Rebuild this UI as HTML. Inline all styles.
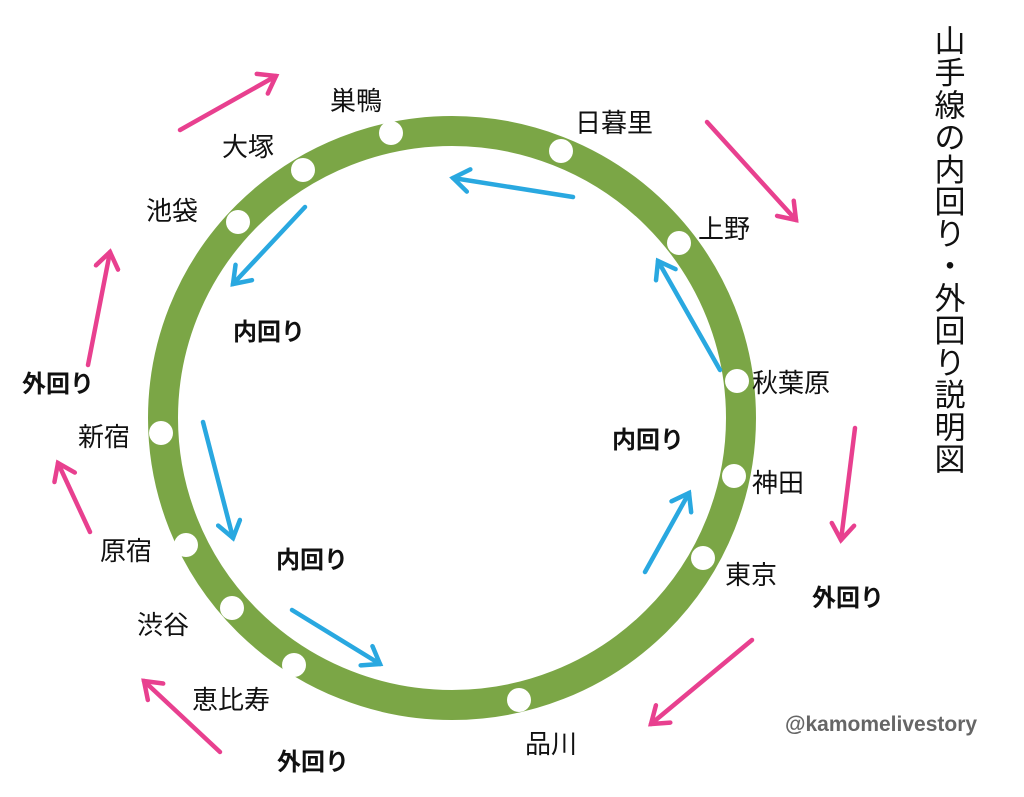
<!DOCTYPE html>
<html><head><meta charset="utf-8"><style>
html,body{margin:0;padding:0;background:#fff;}
svg{display:block}
text{font-family:"Liberation Sans","Noto Sans CJK JP",sans-serif;}
</style></head><body>
<svg width="1024" height="797" viewBox="0 0 1024 797" xmlns="http://www.w3.org/2000/svg">
<rect width="1024" height="797" fill="#fff"/>
<ellipse cx="452" cy="418" rx="289" ry="287" fill="none" stroke="#7ba646" stroke-width="30"/>
<g fill="#fff">
<circle cx="391" cy="133" r="12"/><circle cx="561" cy="151" r="12"/><circle cx="679" cy="243" r="12"/>
<circle cx="737" cy="381" r="12"/><circle cx="734" cy="476" r="12"/><circle cx="703" cy="558" r="12"/>
<circle cx="519" cy="700" r="12"/><circle cx="294" cy="665" r="12"/><circle cx="232" cy="608" r="12"/>
<circle cx="186" cy="545" r="12"/><circle cx="161" cy="433" r="12"/><circle cx="238" cy="222" r="12"/>
<circle cx="303" cy="170" r="12"/>
</g>
<defs>
<marker id="p" markerWidth="6" markerHeight="6" refX="4.5" refY="3" orient="auto" markerUnits="strokeWidth"><path d="M1,0.5 L4.5,3 L1,5.5" fill="none" stroke="#e8408f" stroke-width="1" stroke-linecap="round"/></marker>
<marker id="b" markerWidth="6" markerHeight="6" refX="4.5" refY="3" orient="auto" markerUnits="strokeWidth"><path d="M1,0.5 L4.5,3 L1,5.5" fill="none" stroke="#29a8e0" stroke-width="1" stroke-linecap="round"/></marker>
</defs>
<g stroke="#e8408f" stroke-width="4.5" stroke-linecap="round" marker-end="url(#p)">
<line x1="180" y1="130" x2="276" y2="76"/>
<line x1="707" y1="122" x2="796" y2="220"/>
<line x1="88" y1="365" x2="110" y2="252"/>
<line x1="855" y1="428" x2="841" y2="540"/>
<line x1="90" y1="532" x2="58" y2="463"/>
<line x1="752" y1="640" x2="651" y2="724"/>
<line x1="220" y1="752" x2="144" y2="681"/>
</g>
<g stroke="#29a8e0" stroke-width="4.5" stroke-linecap="round" marker-end="url(#b)">
<line x1="573" y1="197" x2="453" y2="178"/>
<line x1="305" y1="207" x2="233" y2="284"/>
<line x1="720" y1="370" x2="658" y2="261"/>
<line x1="203" y1="422" x2="233" y2="538"/>
<line x1="645" y1="572" x2="689" y2="493"/>
<line x1="292" y1="610" x2="380" y2="664"/>
</g>
<g font-size="26" fill="#111">
<text x="330" y="110">巣鴨</text>
<text x="575" y="132">日暮里</text>
<text x="222" y="156">大塚</text>
<text x="146" y="220">池袋</text>
<text x="698" y="238">上野</text>
<text x="752" y="392">秋葉原</text>
<text x="78" y="446">新宿</text>
<text x="752" y="492">神田</text>
<text x="100" y="560">原宿</text>
<text x="725" y="584">東京</text>
<text x="137" y="634">渋谷</text>
<text x="192" y="709">恵比寿</text>
<text x="525" y="753">品川</text>
</g>
<g font-size="24" font-weight="bold" fill="#111">
<text x="22" y="392">外回り</text>
<text x="233" y="340">内回り</text>
<text x="612" y="448">内回り</text>
<text x="276" y="568">内回り</text>
<text x="812" y="606">外回り</text>
<text x="277" y="770">外回り</text>
</g>
<text x="785" y="731" font-size="21" font-weight="bold" fill="#666">@kamomelivestory</text>
<g font-size="31" fill="#111" text-anchor="middle">
<text x="950" y="52">山</text>
<text x="950" y="84.2">手</text>
<text x="950" y="116.4">線</text>
<text x="950" y="148.6">の</text>
<text x="950" y="180.8">内</text>
<text x="950" y="213">回</text>
<text x="950" y="245.2">り</text>
<text x="950" y="277.4">・</text>
<text x="950" y="309.6">外</text>
<text x="950" y="341.8">回</text>
<text x="950" y="374">り</text>
<text x="950" y="406.2">説</text>
<text x="950" y="438.4">明</text>
<text x="950" y="470.6">図</text>
</g>
</svg>
</body></html>
